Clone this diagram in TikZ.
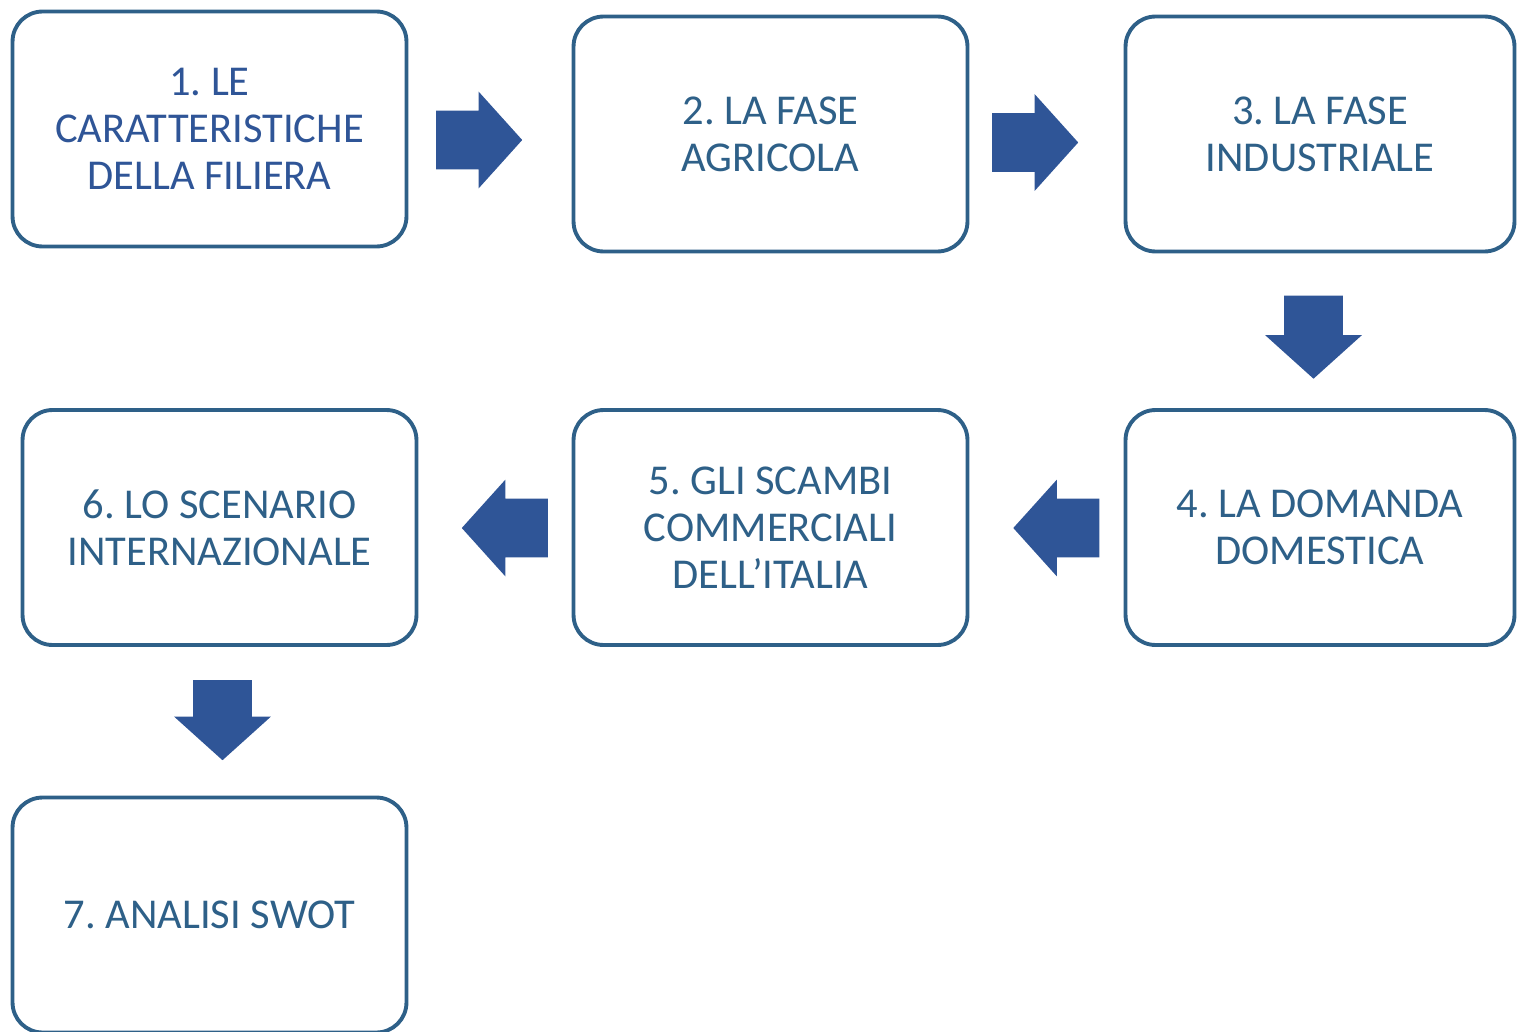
\documentclass[tikz,border=0pt]{standalone}
\usepackage{fontspec}
\setmainfont{Carlito}
\usetikzlibrary{shapes.arrows}
\definecolor{stepedge}{HTML}{2E6088}
\definecolor{flowblue}{HTML}{2F5597}
\frenchspacing

\begin{document}
\begin{tikzpicture}[
      x=0.02cm,y=-0.02cm,
      stepbox/.style={draw=stepedge,line width=2.2pt,rounded corners=0.6cm,fill=white,
        minimum width=7.88cm,minimum height=4.7cm,align=center,text=stepedge,
        font=\fontsize{24.2}{26.8}\selectfont},
      flow/.style={single arrow,fill=flowblue,draw=none,inner xsep=0pt,inner ysep=0.58cm,
        minimum height=1.72cm,single arrow head extend=0.38cm,
        single arrow tip angle=96}
    ]
    \useasboundingbox (0,0) rectangle (1517,1031);

    \node[stepbox,text=flowblue] (s1) at (209.5,129) {1. LE\\CARATTERISTICHE\\DELLA FILIERA};
    \node[stepbox] (s2) at (770.5,134) {2. LA FASE\\AGRICOLA};
    \node[stepbox,minimum width=7.78cm] (s3) at (1320,134) {3. LA FASE\\INDUSTRIALE};
    \node[stepbox,minimum width=7.78cm] (s4) at (1320,527.5) {4. LA DOMANDA\\DOMESTICA};
    \node[stepbox] (s5) at (770.5,527.5) {5. GLI SCAMBI\\COMMERCIALI\\DELL’ITALIA};
    \node[stepbox] (s6) at (219.5,527.5) {6. LO SCENARIO\\INTERNAZIONALE};
    \node[stepbox] (s7) at (209.5,915) {7. ANALISI SWOT};

    % block arrows between the steps
    \node[flow] (f12) at (466,140) {};
    \node[flow] (f23) at (1022,142.5) {};
    \node[flow,rotate=-90,minimum height=1.66cm] (f34) at (1313.5,324) {};
    \node[flow,rotate=180] (f45) at (1069.5,528) {};
    \node[flow,rotate=180] (f56) at (518,528) {};
    \node[flow,rotate=-90,minimum height=1.6cm] (f67) at (222.5,707) {};
  \end{tikzpicture}
\end{document}
